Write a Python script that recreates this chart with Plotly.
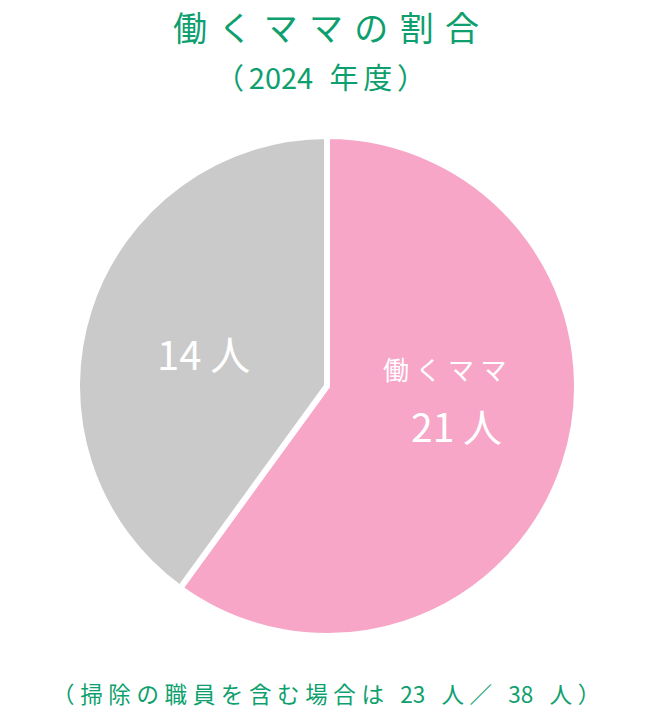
import plotly.graph_objects as go

# chart data
labels = ["働くママ", "その他"]
counts = [21, 14]
slice_colors = ["#F7A6C8", "#CACACA"]

title_text = "働くママの割合"
subtitle_text = "（2024 年度）"
note_text = "（掃除の職員を含む場合は 23 人／ 38 人）"

GREEN = "#0E9F6E"
FONT = "Noto Sans CJK JP"
W, H = 652, 710


def px(x, y):
    # page pixel -> paper coords
    return x / W, 1 - y / H


def spaced(s, gap="\u2005"):
    # widen tracking, but keep digit runs tight
    out = s[0]
    for a, b in zip(s, s[1:]):
        if not (a.isdigit() and b.isdigit()):
            out += gap
        out += b
    return out


def label(x, y, text, size, color, yanchor="middle"):
    px_x, px_y = px(x, y)
    fig.add_annotation(x=px_x, y=px_y, xref="paper", yref="paper",
                       xanchor="center", yanchor=yanchor,
                       text=text, showarrow=False,
                       font=dict(family=FONT, size=size, color=color))


x0, y_top = px(77, 136)
x1, y_bot = px(577, 636)

fig = go.Figure(go.Pie(
    labels=labels,
    values=counts,
    sort=False,
    direction="clockwise",
    rotation=0,
    marker=dict(colors=slice_colors, line=dict(color="white", width=6)),
    textinfo="none",
    hoverinfo="label+value",
    showlegend=False,
    domain=dict(x=[x0, x1], y=[y_bot, y_top]),
))

# slice labels
label(445, 368, spaced(labels[0]), 26, "white")
label(457, 425, f"{counts[0]} 人", 39, "white")
label(203, 353, f"{counts[1]} 人", 40, "white")

# titles
label(326, 0, spaced(title_text, "\u2004"), 34, GREEN, yanchor="top")
label(320, 76, spaced(subtitle_text, "\u2006"), 29, GREEN)
label(326, 693, spaced(note_text, "\u2005"), 22.5, GREEN)

fig.update_layout(
    width=W, height=H,
    margin=dict(l=0, r=0, t=0, b=0),
    paper_bgcolor="white",
    plot_bgcolor="white",
)

# drop the default 8px page margin so the figure sits flush with the window
fig.write_html("out.html", config={"displayModeBar": False},
               post_script="document.body.style.margin = '0';")
